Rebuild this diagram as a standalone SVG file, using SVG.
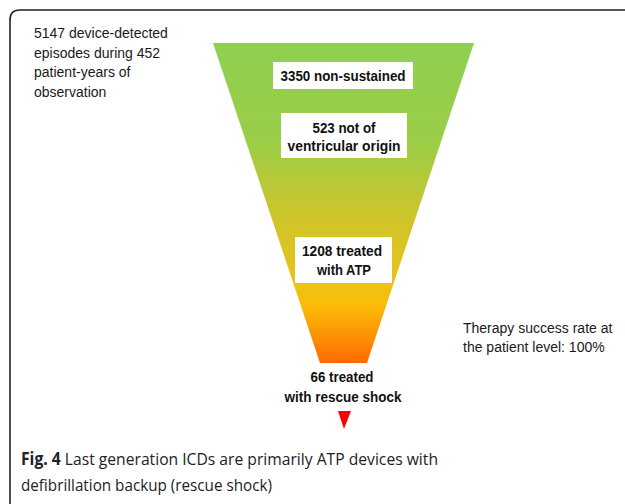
<svg xmlns="http://www.w3.org/2000/svg" width="625" height="504" viewBox="0 0 625 504">
<style>
.lbl{font-family:"Liberation Sans",Arial,sans-serif;font-size:14px;fill:#1a1a1a}
.bold{font-family:"Liberation Sans",Arial,sans-serif;font-size:14px;font-weight:bold;fill:#111;text-anchor:middle}
.cap{font-family:"Open Sans","Noto Sans",sans-serif;font-size:17px;fill:#222}
.box{fill:#ffffff}
</style>
<defs>
<linearGradient id="fg" x1="0" y1="43" x2="0" y2="363" gradientUnits="userSpaceOnUse">
<stop offset="0" stop-color="#8fd04f"/>
<stop offset="0.3" stop-color="#9acd48"/>
<stop offset="0.55" stop-color="#cfc52a"/>
<stop offset="0.72" stop-color="#e6c31a"/>
<stop offset="0.82" stop-color="#fbbd08"/>
<stop offset="1" stop-color="#ff6a00"/>
</linearGradient>
</defs>
<rect width="625" height="504" fill="#ffffff"/>
<path d="M10,504 Q10,500 10,497 L10,20 Q10,10 20,10 L625,10" fill="none" stroke="#222" stroke-width="1.6"/>
<g id="funnel">
<polygon points="213,43 474,43 367,363 320,363" fill="url(#fg)"/>
</g>
<g id="intro">
<text class="lbl" x="34" y="38">5147 device-detected</text>
<text class="lbl" x="34" y="58">episodes during 452</text>
<text class="lbl" x="34" y="77">patient-years of</text>
<text class="lbl" x="34" y="97">observation</text>
</g>
<g id="n1">
<rect class="box" x="273" y="62" width="140" height="27"/>
<text class="bold" x="343" y="81" textLength="125" lengthAdjust="spacingAndGlyphs">3350 non-sustained</text>
</g>
<g id="n2">
<rect class="box" x="281" y="113" width="126" height="45"/>
<text class="bold" x="344" y="133" textLength="63" lengthAdjust="spacingAndGlyphs">523 not of</text>
<text class="bold" x="344" y="151" textLength="113" lengthAdjust="spacingAndGlyphs">ventricular origin</text>
</g>
<g id="n3">
<rect class="box" x="295" y="237" width="97" height="46"/>
<text class="bold" x="342" y="256" textLength="80" lengthAdjust="spacingAndGlyphs">1208 treated</text>
<text class="bold" x="344" y="275" textLength="54" lengthAdjust="spacingAndGlyphs">with ATP</text>
</g>
<g id="n4">
<text class="bold" x="342" y="382" textLength="63" lengthAdjust="spacingAndGlyphs">66 treated</text>
<text class="bold" x="343" y="402" textLength="117" lengthAdjust="spacingAndGlyphs">with rescue shock</text>
</g>
<g id="connectors">
<polygon points="338,411 351,411 344,429" fill="#ff0000"/>
</g>
<g id="success">
<text class="lbl" x="463" y="333">Therapy success rate at</text>
<text class="lbl" x="463" y="352">the patient level: 100%</text>
</g>
<g id="caption">
<text class="cap" x="21" y="465" textLength="417" lengthAdjust="spacingAndGlyphs"><tspan font-weight="bold">Fig. 4</tspan> Last generation ICDs are primarily ATP devices with</text>
<text class="cap" x="21" y="491" textLength="251" lengthAdjust="spacingAndGlyphs">defibrillation backup (rescue shock)</text>
</g>
</svg>
